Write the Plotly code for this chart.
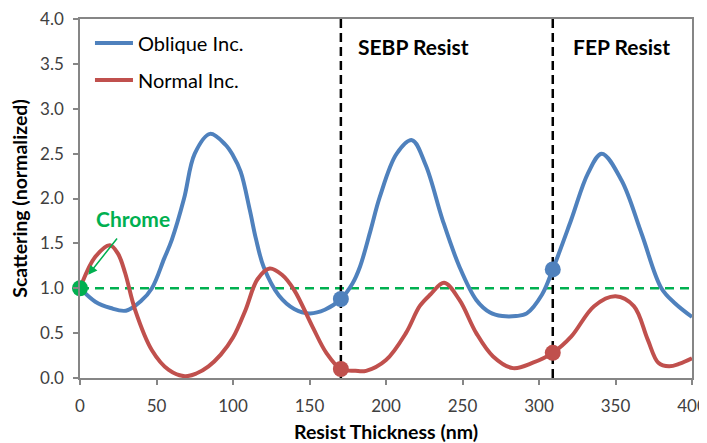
import plotly.graph_objects as go

# ---- data ----
oblique_x = [0, 10, 20, 30, 40, 47, 55, 60, 68, 75, 85, 95, 100, 105, 111, 115, 120, 130, 140, 150,
             160, 170.5, 178, 183, 190, 196, 207, 217, 226, 237, 248, 259, 268, 276, 285, 292, 302,
             309, 321, 332, 341, 354, 367, 380, 389, 400]
oblique_y = [1.0, 0.85, 0.78, 0.75, 0.86, 1.0, 1.33, 1.54, 2.0, 2.5, 2.72, 2.6, 2.48, 2.3, 1.87, 1.55,
             1.24, 0.92, 0.77, 0.72, 0.76, 0.88, 1.05, 1.24, 1.65, 2.02, 2.5, 2.65, 2.37, 1.76, 1.24,
             0.87, 0.73, 0.69, 0.69, 0.72, 0.93, 1.21, 1.76, 2.28, 2.5, 2.2, 1.61, 1.0, 0.83, 0.68]

normal_x = [0, 10, 19.6, 25, 29.5, 36, 47, 58, 68.5, 76, 84, 92, 100, 108, 116, 124, 132, 140, 152,
            161, 170.5, 180, 187, 200, 213, 222, 229, 238, 248, 259, 270, 283, 296, 309, 321, 336,
            350, 362, 371, 378, 385, 392, 400]
normal_y = [1.0, 1.35, 1.48, 1.38, 1.17, 0.76, 0.31, 0.09, 0.02, 0.05, 0.13, 0.26, 0.45, 0.75, 1.10,
            1.22, 1.15, 0.98, 0.57, 0.28, 0.10, 0.08, 0.08, 0.20, 0.50, 0.80, 0.93, 1.06, 0.87, 0.50,
            0.24, 0.11, 0.17, 0.28, 0.46, 0.80, 0.91, 0.80, 0.43, 0.17, 0.13, 0.16, 0.22]

boundary_x = [170.5, 309]          # SEBP / FEP boundaries
oblique_marks = [0.88, 1.21]
normal_marks = [0.10, 0.28]
chrome_x, chrome_y = 0, 1.0

x_ticks = [0, 50, 100, 150, 200, 250, 300, 350, 400]
y_ticks = [0.0, 0.5, 1.0, 1.5, 2.0, 2.5, 3.0, 3.5, 4.0]

BLUE = "#4F81BD"
RED = "#C0504D"
GREEN = "#00B050"
FONT = "Lato"

fig = go.Figure()

# reference line
fig.add_trace(go.Scatter(x=[0, 400], y=[chrome_y, chrome_y], mode="lines",
                         line=dict(color=GREEN, width=2.5, dash="9px,6px"),
                         showlegend=False, hoverinfo="skip"))
# boundary lines
for bx in boundary_x:
    fig.add_trace(go.Scatter(x=[bx, bx], y=[0, 4], mode="lines",
                             line=dict(color="black", width=2.5, dash="9px,5px"),
                             showlegend=False, hoverinfo="skip"))

fig.add_trace(go.Scatter(x=oblique_x, y=oblique_y, mode="lines", name="Oblique Inc.",
                         line=dict(color=BLUE, width=4, shape="spline", smoothing=1.0),
                         legend="legend"))
fig.add_trace(go.Scatter(x=normal_x, y=normal_y, mode="lines", name="Normal Inc.",
                         line=dict(color=RED, width=4, shape="spline", smoothing=1.0),
                         legend="legend2"))

fig.add_trace(go.Scatter(x=boundary_x, y=oblique_marks, mode="markers",
                         marker=dict(color=BLUE, size=16), showlegend=False))
fig.add_trace(go.Scatter(x=boundary_x, y=normal_marks, mode="markers",
                         marker=dict(color=RED, size=16), showlegend=False))
fig.add_trace(go.Scatter(x=[chrome_x], y=[chrome_y], mode="markers",
                         marker=dict(color=GREEN, size=16), showlegend=False, cliponaxis=False))

fig.add_annotation(x=180.2, y=3.69, text="<b>SEBP Resist</b>", showarrow=False,
                   xanchor="left", yanchor="middle", font=dict(family=FONT, size=21, color="black"))
fig.add_annotation(x=320.6, y=3.69, text="<b>FEP Resist</b>", showarrow=False,
                   xanchor="left", yanchor="middle", font=dict(family=FONT, size=21, color="black"))
fig.add_annotation(x=34.5, y=1.78, text="<b>Chrome</b>", showarrow=False,
                   xanchor="center", yanchor="middle", font=dict(family=FONT, size=21, color=GREEN))
fig.add_annotation(x=5.4, y=1.15, ax=25, ay=1.57, axref="x", ayref="y", text="",
                   showarrow=True, arrowhead=2, arrowsize=1.2, arrowwidth=1.5, arrowcolor=GREEN)

axis_common = dict(showline=True, linecolor="#868686", linewidth=1.5, mirror=True,
                   ticks="outside", ticklen=5, tickcolor="#868686", tickwidth=1.5,
                   showgrid=False, zeroline=False, ticklabeloverflow="allow",
                   tickfont=dict(family=FONT, size=17, color="#404040"))

fig.update_xaxes(range=[0, 400], tickvals=x_ticks, ticktext=[str(t) for t in x_ticks],
                 ticklabelstandoff=7,
                 title=dict(text="<b>Resist Thickness (nm)</b>", standoff=12,
                            font=dict(family=FONT, size=19.5, color="black")),
                 **axis_common)
fig.update_yaxes(range=[0, 4], tickvals=y_ticks, ticktext=[f"{t:.1f}" for t in y_ticks],
                 ticklabelstandoff=6,
                 title=dict(text="<b>Scattering (normalized)</b>", standoff=8,
                            font=dict(family=FONT, size=19.5, color="black")),
                 **axis_common)

leg_common = dict(xanchor="left", yanchor="middle", bgcolor="rgba(0,0,0,0)", itemwidth=38,
                  font=dict(family=FONT, size=20, color="black"))
fig.update_layout(
    width=699, height=435,
    margin=dict(l=72, r=15, t=11, b=65, autoexpand=False),
    plot_bgcolor="white", paper_bgcolor="white",
    legend=dict(x=0.0163, y=0.933, **leg_common),
    legend2=dict(x=0.0163, y=0.83, **leg_common),
)

fig.write_html("out.html")
